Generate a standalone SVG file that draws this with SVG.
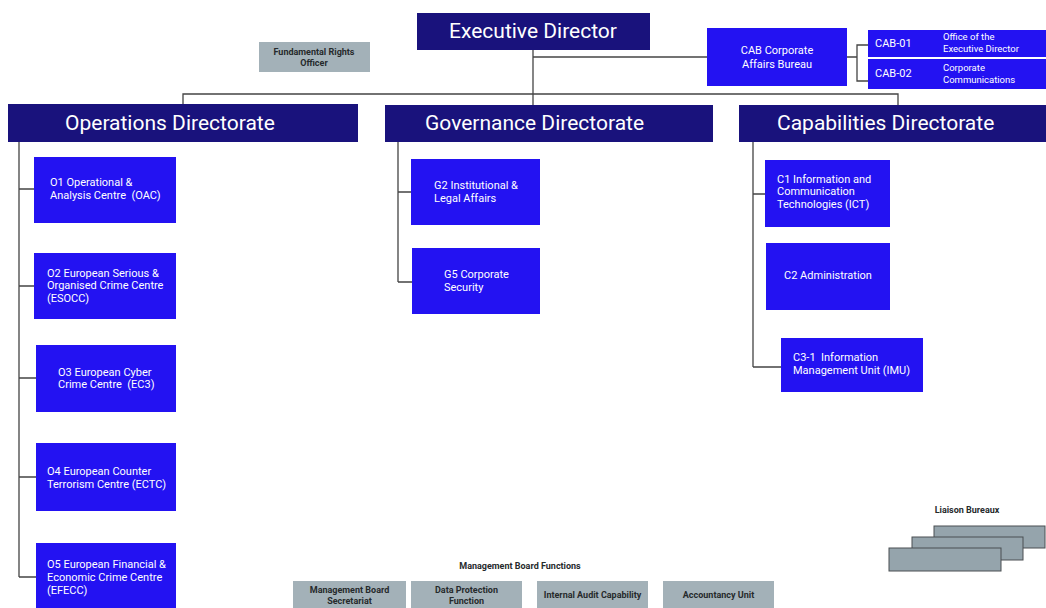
<svg xmlns="http://www.w3.org/2000/svg" width="1046" height="608" viewBox="0 0 1046 608">
<style>
text{white-space:pre}
.navy{fill:#19127c}
.blue{fill:#2312f2}
.gray{fill:#a3b1b8}
.lb{fill:#95a4ac;stroke:#4a4f52;stroke-width:1}
.big{font-family:Roboto,"Liberation Sans",sans-serif;font-size:21px;fill:#ffffff}
.t{font-family:Roboto,"Liberation Sans",sans-serif;font-size:11px;fill:#ffffff}
.ts{font-family:Roboto,"Liberation Sans",sans-serif;font-size:9.5px;fill:#ffffff}
.g{font-family:Roboto,"Liberation Sans",sans-serif;font-size:9px;font-weight:bold;fill:#262a2c}
.conn{fill:none;stroke:#444444;stroke-width:1.3}
</style>
<rect width="1046" height="608" fill="#ffffff"/>
<g id="connectors" class="conn">
<path d="M533,50 V105"/>
<path d="M533,57 H707"/>
<path d="M183,105 V94 H898 V105"/>
<path d="M847,57 H857 M868,45 H857 V81 H868"/>
<path d="M19,142 V577 M19,189 H34 M19,286 H34 M19,378 H36 M19,477 H36 M19,577 H36"/>
<path d="M398,142 V282 M398,192 H411 M398,282 H412"/>
<path d="M753,142 V367 M753,194 H765 M753,367 H781"/>
</g>
<g id="executive-director">
<rect class="navy" x="417" y="13" width="233" height="37"/>
<text class="big" x="533" y="38" text-anchor="middle">Executive Director</text>
</g>
<g id="fundamental-rights-officer">
<rect class="gray" x="259" y="42" width="111" height="30"/>
<text class="g" x="314" y="55" text-anchor="middle">Fundamental Rights</text>
<text class="g" x="314" y="66" text-anchor="middle">Officer</text>
</g>
<g id="cab">
<rect class="blue" x="707" y="28" width="140" height="58"/>
<text class="t" x="777" y="54" text-anchor="middle">CAB Corporate</text>
<text class="t" x="777" y="68" text-anchor="middle">Affairs Bureau</text>
</g>
<g id="cab-01">
<rect class="blue" x="868" y="30" width="178" height="27"/>
<text class="t" x="875" y="47">CAB-01</text>
<text class="ts" x="943" y="40">Office of the</text>
<text class="ts" x="943" y="52">Executive Director</text>
</g>
<g id="cab-02">
<rect class="blue" x="868" y="59" width="178" height="30"/>
<text class="t" x="875" y="77">CAB-02</text>
<text class="ts" x="943" y="71">Corporate</text>
<text class="ts" x="943" y="83">Communications</text>
</g>
<g id="operations-directorate">
<rect class="navy" x="8" y="104" width="350" height="38"/>
<text class="big" x="65" y="130">Operations Directorate</text>
</g>
<g id="governance-directorate">
<rect class="navy" x="385" y="105" width="328" height="37"/>
<text class="big" x="425" y="130">Governance Directorate</text>
</g>
<g id="capabilities-directorate">
<rect class="navy" x="739" y="105" width="307" height="37"/>
<text class="big" x="777" y="130">Capabilities Directorate</text>
</g>
<g id="o1">
<rect class="blue" x="34" y="157" width="142" height="66"/>
<text class="t" x="50" y="186">O1 Operational &amp;</text>
<text class="t" x="50" y="199">Analysis Centre  (OAC)</text>
</g>
<g id="o2">
<rect class="blue" x="34" y="253" width="142" height="66"/>
<text class="t" x="47" y="277">O2 European Serious &amp;</text>
<text class="t" x="47" y="289">Organised Crime Centre</text>
<text class="t" x="47" y="302">(ESOCC)</text>
</g>
<g id="o3">
<rect class="blue" x="36" y="345" width="140" height="67"/>
<text class="t" x="58" y="376">O3 European Cyber</text>
<text class="t" x="58" y="388">Crime Centre  (EC3)</text>
</g>
<g id="o4">
<rect class="blue" x="36" y="443" width="140" height="68"/>
<text class="t" x="47" y="475">O4 European Counter</text>
<text class="t" x="47" y="488">Terrorism Centre (ECTC)</text>
</g>
<g id="o5">
<rect class="blue" x="36" y="543" width="140" height="70"/>
<text class="t" x="47" y="568">O5 European Financial &amp;</text>
<text class="t" x="47" y="581">Economic Crime Centre</text>
<text class="t" x="47" y="594">(EFECC)</text>
</g>
<g id="g2">
<rect class="blue" x="411" y="159" width="129" height="66"/>
<text class="t" x="434" y="189">G2 Institutional &amp;</text>
<text class="t" x="434" y="202">Legal Affairs</text>
</g>
<g id="g5">
<rect class="blue" x="412" y="248" width="128" height="66"/>
<text class="t" x="444" y="278">G5 Corporate</text>
<text class="t" x="444" y="291">Security</text>
</g>
<g id="c1">
<rect class="blue" x="765" y="160" width="125" height="67"/>
<text class="t" x="777" y="183">C1 Information and</text>
<text class="t" x="777" y="195">Communication</text>
<text class="t" x="777" y="208">Technologies (ICT)</text>
</g>
<g id="c2">
<rect class="blue" x="766" y="243" width="124" height="67"/>
<text class="t" x="828" y="279" text-anchor="middle">C2 Administration</text>
</g>
<g id="c3-1">
<rect class="blue" x="781" y="338" width="142" height="54"/>
<text class="t" x="793" y="361">C3-1  Information</text>
<text class="t" x="793" y="374">Management Unit (IMU)</text>
</g>
<g id="management-board-functions">
<text class="g" x="520" y="569" text-anchor="middle">Management Board Functions</text>
</g>
<g id="mb-secretariat">
<rect class="gray" x="293" y="581" width="113" height="30"/>
<text class="g" x="349.5" y="593" text-anchor="middle">Management Board</text>
<text class="g" x="349.5" y="604" text-anchor="middle">Secretariat</text>
</g>
<g id="data-protection">
<rect class="gray" x="411" y="581" width="111" height="30"/>
<text class="g" x="466.5" y="593" text-anchor="middle">Data Protection</text>
<text class="g" x="466.5" y="604" text-anchor="middle">Function</text>
</g>
<g id="internal-audit">
<rect class="gray" x="537" y="581" width="111" height="30"/>
<text class="g" x="592.5" y="598" text-anchor="middle">Internal Audit Capability</text>
</g>
<g id="accountancy">
<rect class="gray" x="663" y="581" width="111" height="30"/>
<text class="g" x="718.5" y="598" text-anchor="middle">Accountancy Unit</text>
</g>
<g id="liaison-bureaux">
<text class="g" x="967" y="513" text-anchor="middle">Liaison Bureaux</text>
<rect class="lb" x="934" y="526" width="111" height="22"/>
<rect class="lb" x="912" y="537" width="111" height="23"/>
<rect class="lb" x="889" y="548" width="112" height="23"/>
</g>
</svg>
